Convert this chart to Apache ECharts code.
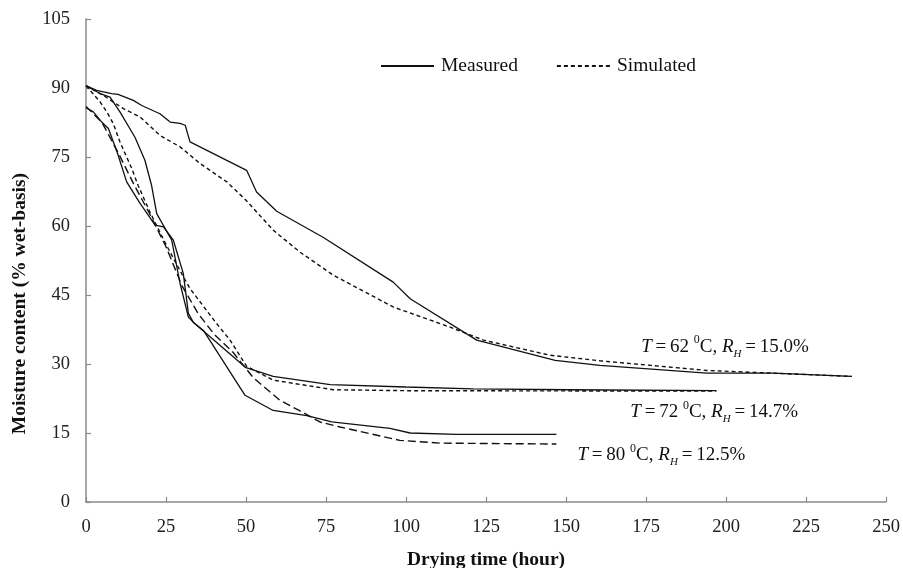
<!DOCTYPE html>
<html>
<head>
<meta charset="utf-8">
<script src="https://cdn.jsdelivr.net/npm/echarts@6/dist/echarts.min.js"></script>
<style>
html,body{margin:0;padding:0;background:#fff;}
#chart{width:903px;height:568px;}
</style>
</head>
<body>
<div id="chart"></div>
<script>
// ---- data (drying time in hours, moisture content % wet-basis) ----
const measured62 = [[0,90.5],[3.3,89.5],[8,88.8],[10,88.6],[14.8,87.3],[17.4,86.2],[23.1,84.4],[26.3,82.6],[29.4,82.3],[31,81.9],[32.5,78.3],[50.2,72.1],[53.3,67.4],[59.6,63.2],[74.2,57.5],[96,47.8],[101.3,44.2],[122.1,35.2],[146.6,30.8],[160.6,29.7],[194,28.0],[214.7,28.0],[239.3,27.3]];
const simulated62 = [[0,90.5],[5.4,88.4],[11.7,85.5],[16.9,83.7],[23.1,79.7],[29.4,77.2],[35.6,73.6],[44,69.6],[50,65.6],[58.5,59.1],[66.9,54.3],[77.3,49.3],[96,42.4],[113.8,38.0],[124.2,35.2],[145,31.9],[160.6,30.7],[194,28.6],[239.3,27.3]];
const measured72 = [[0,90.5],[4.4,88.8],[7.5,88.0],[10.6,84.8],[15.3,79.3],[18.4,74.3],[20.5,68.8],[22.1,62.7],[26.8,56.9],[29.4,47.5],[32,40.2],[33.5,39.1],[50,29.2],[58.5,27.3],[76.3,25.5],[100,25.0],[121,24.6],[151,24.4],[197,24.2]];
const simulated72 = [[0,90.5],[4.4,87.0],[6.5,84.8],[8.5,82.3],[10.6,78.3],[12.7,75.0],[14.3,72.5],[16.3,68.8],[20,63.0],[25,56.0],[30,49.5],[32.5,46.4],[40.8,38.8],[45,35.2],[50.2,29.5],[58.5,26.5],[77.3,24.4],[100,24.2],[197,24.1]];
const measured80 = [[0,85.7],[2.3,84.8],[4.9,82.6],[7,81.2],[9.9,75.7],[12.7,69.6],[16.9,64.9],[21.6,60.2],[24.2,59.8],[27.3,56.9],[30.4,49.7],[32,41.0],[33.5,39.1],[36.7,37.3],[49.7,23.2],[58.5,19.9],[69,18.8],[76.8,17.4],[95,16.0],[101.3,15.0],[115.8,14.7],[147,14.7]];
const simulated80 = [[0,86.0],[5,82.5],[10,76.0],[15,69.0],[20,62.5],[25,55.5],[30,47.0],[35,41.0],[40,36.5],[46,32.5],[52.3,27.0],[60.6,22.1],[66.9,19.8],[73.1,17.4],[79.4,16.3],[98.1,13.4],[110.6,12.8],[147,12.6]];

const xTicks = [0,25,50,75,100,125,150,175,200,225,250];
const yTicks = [0,15,30,45,60,75,90,105];

const temps = [62, 72, 80];
const humidity = ['15.0', '14.7', '12.5'];
const labelAt = [[199.7,34.1],[196.3,19.9],[179.8,10.5]];

const seriesNames = ['Measured', 'Simulated'];
const xTitle = 'Drying time (hour)';
const yTitle = 'Moisture content (% wet-basis)';

// ---- chart ----
const serif = '"Liberation Serif","Times New Roman",serif';
const chart = echarts.init(document.getElementById('chart'), null, {renderer: 'canvas'});

const solid = {color: '#111', width: 1.3, type: 'solid'};
const shortDash = {color: '#111', width: 1.4, type: [4, 3]};
const longDash = {color: '#111', width: 1.4, type: [8, 4]};

function annotation(i) {
  return {
    coord: labelAt[i],
    value: '',
    label: {
      show: true,
      position: 'inside',
      formatter: '{i|T}{n|\u2009=\u2009' + temps[i] + ' }{sup|0}{n|C, }{i|R}{sub|H}{n|\u2009=\u2009' + humidity[i] + '%}',
      rich: {
        n: {fontFamily: serif, fontSize: 19, color: '#111', lineHeight: 22, verticalAlign: 'bottom'},
        i: {fontFamily: serif, fontSize: 19, fontStyle: 'italic', color: '#111', lineHeight: 22, verticalAlign: 'bottom'},
        sup: {fontFamily: serif, fontSize: 12, color: '#111', lineHeight: 13, verticalAlign: 'top'},
        sub: {fontFamily: serif, fontSize: 11, fontStyle: 'italic', color: '#111', lineHeight: 13, verticalAlign: 'bottom', padding: [0, 0, -3, 0]}
      }
    }
  };
}

function lineSeries(name, data, style, marks) {
  const s = {
    name: name,
    type: 'line',
    data: data,
    symbol: 'none',
    smooth: false,
    lineStyle: style,
    itemStyle: {color: '#111'},
    silent: true,
    z: 3
  };
  if (marks) {
    s.markPoint = {
      symbol: 'circle',
      symbolSize: 1,
      itemStyle: {color: 'rgba(0,0,0,0)'},
      silent: true,
      data: marks
    };
  }
  return s;
}

const option = {
  animation: false,
  backgroundColor: '#fff',
  grid: {left: 86, right: 17, top: 19, bottom: 66, containLabel: false, outerBoundsMode: 'none'},
  legend: {
    data: seriesNames,
    left: 380,
    top: 56,
    padding: 0,
    itemWidth: 53,
    itemHeight: 20,
    itemGap: 38,
    itemStyle: {color: 'rgba(0,0,0,0)', borderWidth: 0, opacity: 0},
    textStyle: {fontFamily: serif, fontSize: 19.5, color: '#111', padding: [0, 0, 0, 2]},
    selectedMode: false
  },
  xAxis: {
    type: 'value',
    min: 0, max: 250, interval: 25,
    name: xTitle,
    nameLocation: 'middle',
    nameGap: 48,
    nameTextStyle: {fontFamily: serif, fontSize: 19.5, fontWeight: 'bold', color: '#111'},
    axisLine: {lineStyle: {color: '#8a8a8a', width: 1.5}},
    axisTick: {show: true, inside: true, length: 5, lineStyle: {color: '#8a8a8a', width: 1.2}},
    axisLabel: {fontFamily: serif, fontSize: 18.5, color: '#222', margin: 16,
      formatter: function (v) { return xTicks.indexOf(v) >= 0 ? String(v) : ''; }},
    splitLine: {show: false}
  },
  yAxis: {
    type: 'value',
    min: 0, max: 105, interval: 15,
    axisLine: {show: true, lineStyle: {color: '#8a8a8a', width: 1.5}},
    axisTick: {show: true, inside: true, length: 5, lineStyle: {color: '#8a8a8a', width: 1.2}},
    axisLabel: {fontFamily: serif, fontSize: 18.5, color: '#222', margin: 16,
      formatter: function (v) { return yTicks.indexOf(v) >= 0 ? String(v) : ''; }},
    splitLine: {show: false}
  },
  graphic: [{
    type: 'text',
    left: 10,
    top: 173,
    rotation: Math.PI / 2,
    style: {
      text: yTitle,
      fontFamily: serif, fontSize: 19.5, fontWeight: 'bold', fill: '#111'
    }
  }],
  series: [
    lineSeries(seriesNames[0], measured62, solid, [annotation(0), annotation(1), annotation(2)]),
    lineSeries(seriesNames[1], simulated62, shortDash),
    lineSeries(seriesNames[0], measured72, solid),
    lineSeries(seriesNames[1], simulated72, shortDash),
    lineSeries(seriesNames[0], measured80, solid),
    lineSeries(seriesNames[1], simulated80, longDash)
  ]
};
chart.setOption(option);
</script>
</body>
</html>
